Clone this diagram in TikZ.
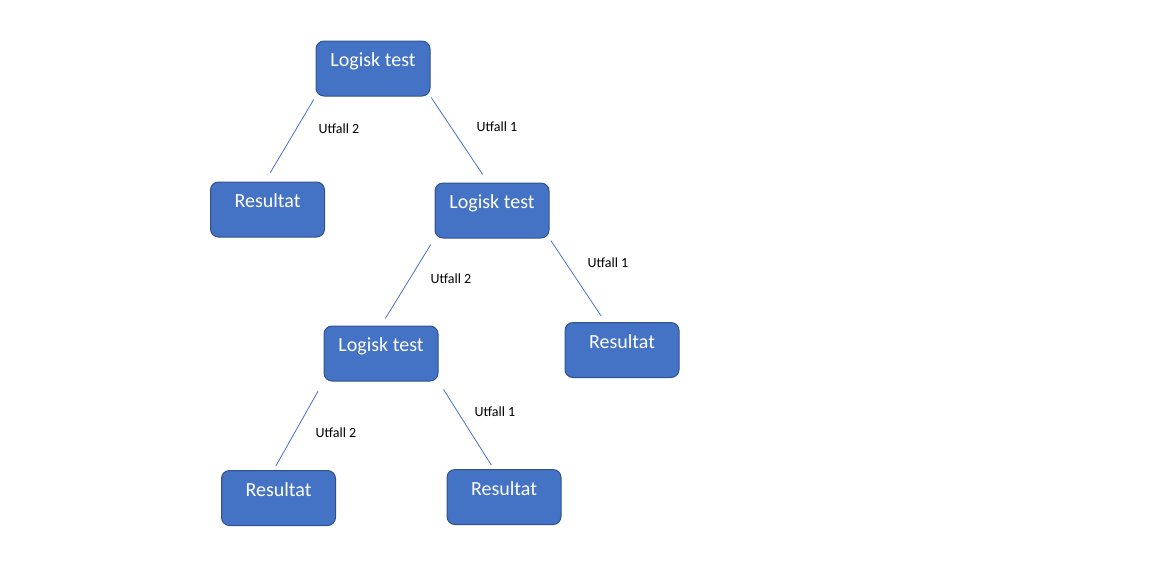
\documentclass[tikz,border=0pt]{standalone}
\usepackage{fontspec}
\setmainfont{Carlito}
\usepackage{tikz}
\usetikzlibrary{calc,positioning}
\usepackage{xcolor}
\definecolor{boxfill}{HTML}{4472C4}
\definecolor{boxline}{HTML}{2F528F}
\definecolor{edgeblue}{HTML}{4472C4}

\begin{document}
\begin{tikzpicture}[x=0.75pt, y=-0.75pt,
    testbox/.style={draw=boxline, fill=boxfill, line width=0.75pt, rounded corners=6pt,
      minimum width=85.5pt, minimum height=41.25pt, inner sep=0pt,
      text=white, font=\fontsize{15}{18}\selectfont,
      text height=10.5pt, text depth=13pt},
    branch/.style={draw=edgeblue, line width=0.6pt},
    utfall/.style={font=\fontsize{10.5}{12}\selectfont, inner sep=1pt}]
  % Frame (keeps the white margins of the page)
  \useasboundingbox (0,0) rectangle (1170,587);

  % Boxes
  \node[testbox] (test1) at (373,68.5)  {Logisk test};
  \node[testbox] (res1)  at (267.5,209.5) {Resultat};
  \node[testbox] (test2) at (492,210.5) {Logisk test};
  \node[testbox] (test3) at (381,353.5) {Logisk test};
  \node[testbox] (res2)  at (622,350)   {Resultat};
  \node[testbox] (res3)  at (278.5,498) {Resultat};
  \node[testbox] (res4)  at (504,497)   {Resultat};

  % Branches (they stop short of the boxes)
  \draw[branch, shorten <=2.6pt, shorten >=7.7pt] (test1.south west) -- (res1.95);
  \draw[branch, shorten <=0.9pt, shorten >=7.4pt] (test1.south east) -- (test2.98);
  \draw[branch, shorten <=5.3pt, shorten >=6.2pt] (test2.south west) -- (test3.north);
  \draw[branch, shorten <=1.8pt, shorten >=5.4pt] (test2.south east) -- (res2.121);
  \draw[branch, shorten <=8.4pt, shorten >=3.4pt] (test3.south west) -- (res3.100);
  \draw[branch, shorten <=7.1pt, shorten >=3.5pt] (test3.south east) -- (res4.110);

  % Labels on the branches
  \node[utfall] (u12) at (339,129) {Utfall 2};
  \node[utfall] (u11) at (497,127) {Utfall 1};
  \node[utfall] (u22) at (451,279) {Utfall 2};
  \node[utfall] (u21) at (608,263) {Utfall 1};
  \node[utfall] (u32) at (336,433) {Utfall 2};
  \node[utfall] (u31) at (495,412) {Utfall 1};
\end{tikzpicture}
\end{document}
